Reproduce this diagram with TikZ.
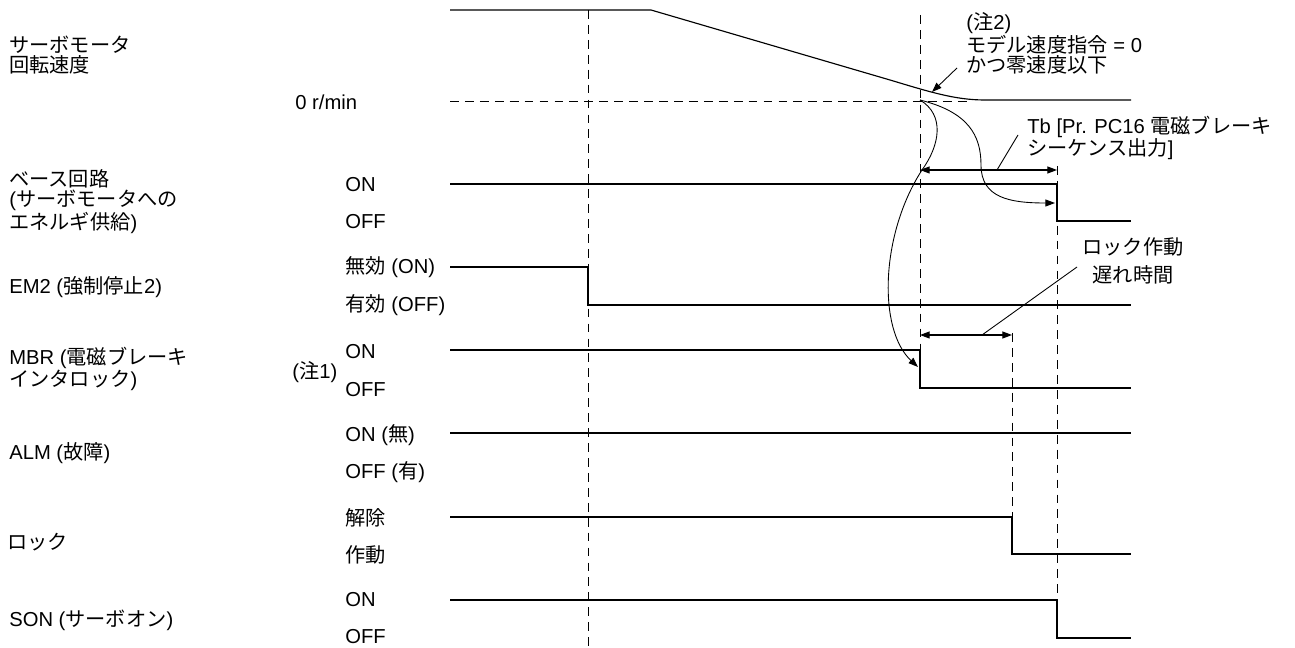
\documentclass[tikz,border=0pt]{standalone}
\usepackage{fontspec}
\setmainfont{Liberation Sans}
\newfontfamily\jpfont{Noto Sans CJK JP}
\usetikzlibrary{arrows.meta}
\newcommand\ja[1]{{\jpfont #1}}

\begin{document}
\begin{tikzpicture}[
    x=0.02cm, y=-0.02cm,
    every node/.style={font=\fontsize{11.5}{11.34}\selectfont, inner sep=0pt, align=left},
    lbl/.style={anchor=west},
    sig/.style={line width=0.65pt},
    guide/.style={line width=0.55pt, dash pattern=on 5pt off 3.5pt},
    dim/.style={line width=0.6pt, {Triangle[length=5.5pt,width=4pt]}-{Triangle[length=5.5pt,width=4pt]}},
    arr/.style={line width=0.5pt, -{Triangle[length=5.5pt,width=4pt]}},
    lead/.style={line width=0.5pt}
]
\useasboundingbox (0,0) rectangle (1295,648);

\node (speed) [lbl] at (9,55) {\ja{サーボモータ}\\\ja{回転速度}};
\node (base) [lbl] at (9,202) {\ja{ベース回路}\\(\ja{サーボモータへの}\\\ja{エネルギ供給})};
\node (em2) [lbl] at (9,287) {EM2 (\ja{強制停止}2)};
\node (mbr) [lbl] at (9,369) {MBR (\ja{電磁ブレーキ}\\\ja{インタロック})};
\node (alm) [lbl] at (9,453) {ALM (\ja{故障})};
\node (lock) [lbl] at (7,542) {\ja{ロック}};
\node (son) [lbl] at (9,620) {SON (\ja{サーボオン})};

\node (zero) [lbl] at (295,102) {0 r/min};
\node (baseon) [lbl] at (345,185) {ON};
\node (baseoff) [lbl] at (345,222) {OFF};
\node (em2on) [lbl] at (345,267) {\ja{無効} (ON)};
\node (em2off) [lbl] at (345,305) {\ja{有効} (OFF)};
\node (note1) [lbl] at (292,372) {(\ja{注}1)};
\node (mbron) [lbl] at (345,352) {ON};
\node (mbroff) [lbl] at (345,390) {OFF};
\node (almon) [lbl] at (345,435) {ON (\ja{無})};
\node (almoff) [lbl] at (345,472) {OFF (\ja{有})};
\node (lockfree) [lbl] at (345,518) {\ja{解除}};
\node (lockon) [lbl] at (345,555) {\ja{作動}};
\node (sonon) [lbl] at (345,600) {ON};
\node (sonoff) [lbl] at (345,637) {OFF};

\node (note2) [lbl] at (966,43.5) {(\ja{注}2)\\\ja{モデル速度指令} = 0\\\ja{かつ零速度以下}};
\node (tb) [lbl] at (1027,138) {Tb [Pr. PC16 \ja{電磁ブレーキ}\\\ja{シーケンス出力}]};
\node (delay) [align=center] at (1133,261) {\ja{ロック作動}\\[4.5pt]\ja{遅れ時間}};

\coordinate (t0) at (588,10);
\coordinate (t1) at (920,15);
\coordinate (t2) at (1012,333);
\coordinate (t3) at (1057,166);
\coordinate (stop) at (920,100);
\coordinate (basedrop) at (1055,203);
\coordinate (mbrdrop) at (918,367);
\coordinate (tbL) at (920,170);
\coordinate (tbR) at (1057,170);
\coordinate (tbfoot) at (997,170);
\coordinate (dlL) at (920,335);
\coordinate (dlR) at (1012,335);
\coordinate (dlfoot) at (982,335);
\coordinate (n2tail) at (957,68);
\coordinate (n2tip) at (932,92);

\draw[guide] (450,101) -- (970,101);
\draw[guide] (t0) -- (588,648);
\draw[guide] (t1) -- (920,350);
\draw[guide] (t2) -- (1012,517);
\draw[guide] (t3) -- (1057,600);

\draw[sig] (450,10) -- (651,10) -- (890,80) .. controls (930,92) and (955,100) .. (985,100) -- (1131,100);
\draw[sig] (450,184) -- (1057,184) -- (1057,221) -- (1131,221);
\draw[sig] (450,267) -- (588,267) -- (588,305) -- (1131,305);
\draw[sig] (450,350) -- (920,350) -- (920,388) -- (1131,388);
\draw[sig] (450,433) -- (1131,433);
\draw[sig] (450,517) -- (1012,517) -- (1012,554) -- (1131,554);
\draw[sig] (450,600) -- (1057,600) -- (1057,638) -- (1131,638);

\draw[dim] (tbL) -- (tbR);
\draw[dim] (dlL) -- (dlR);
\draw[lead] (1018,135) -- (tbfoot);
\draw[lead] (1077,267) -- (dlfoot);
\draw[arr] (n2tail) -- (n2tip);
\draw[arr] (stop) .. controls (968,112) and (981,135) .. (981,165) .. controls (981,198) and (1010,203) .. (basedrop);
\draw[arr] (stop) .. controls (945,115) and (940,145) .. (922,170) .. controls (880,235) and (878,330) .. (mbrdrop);
\end{tikzpicture}
\end{document}
